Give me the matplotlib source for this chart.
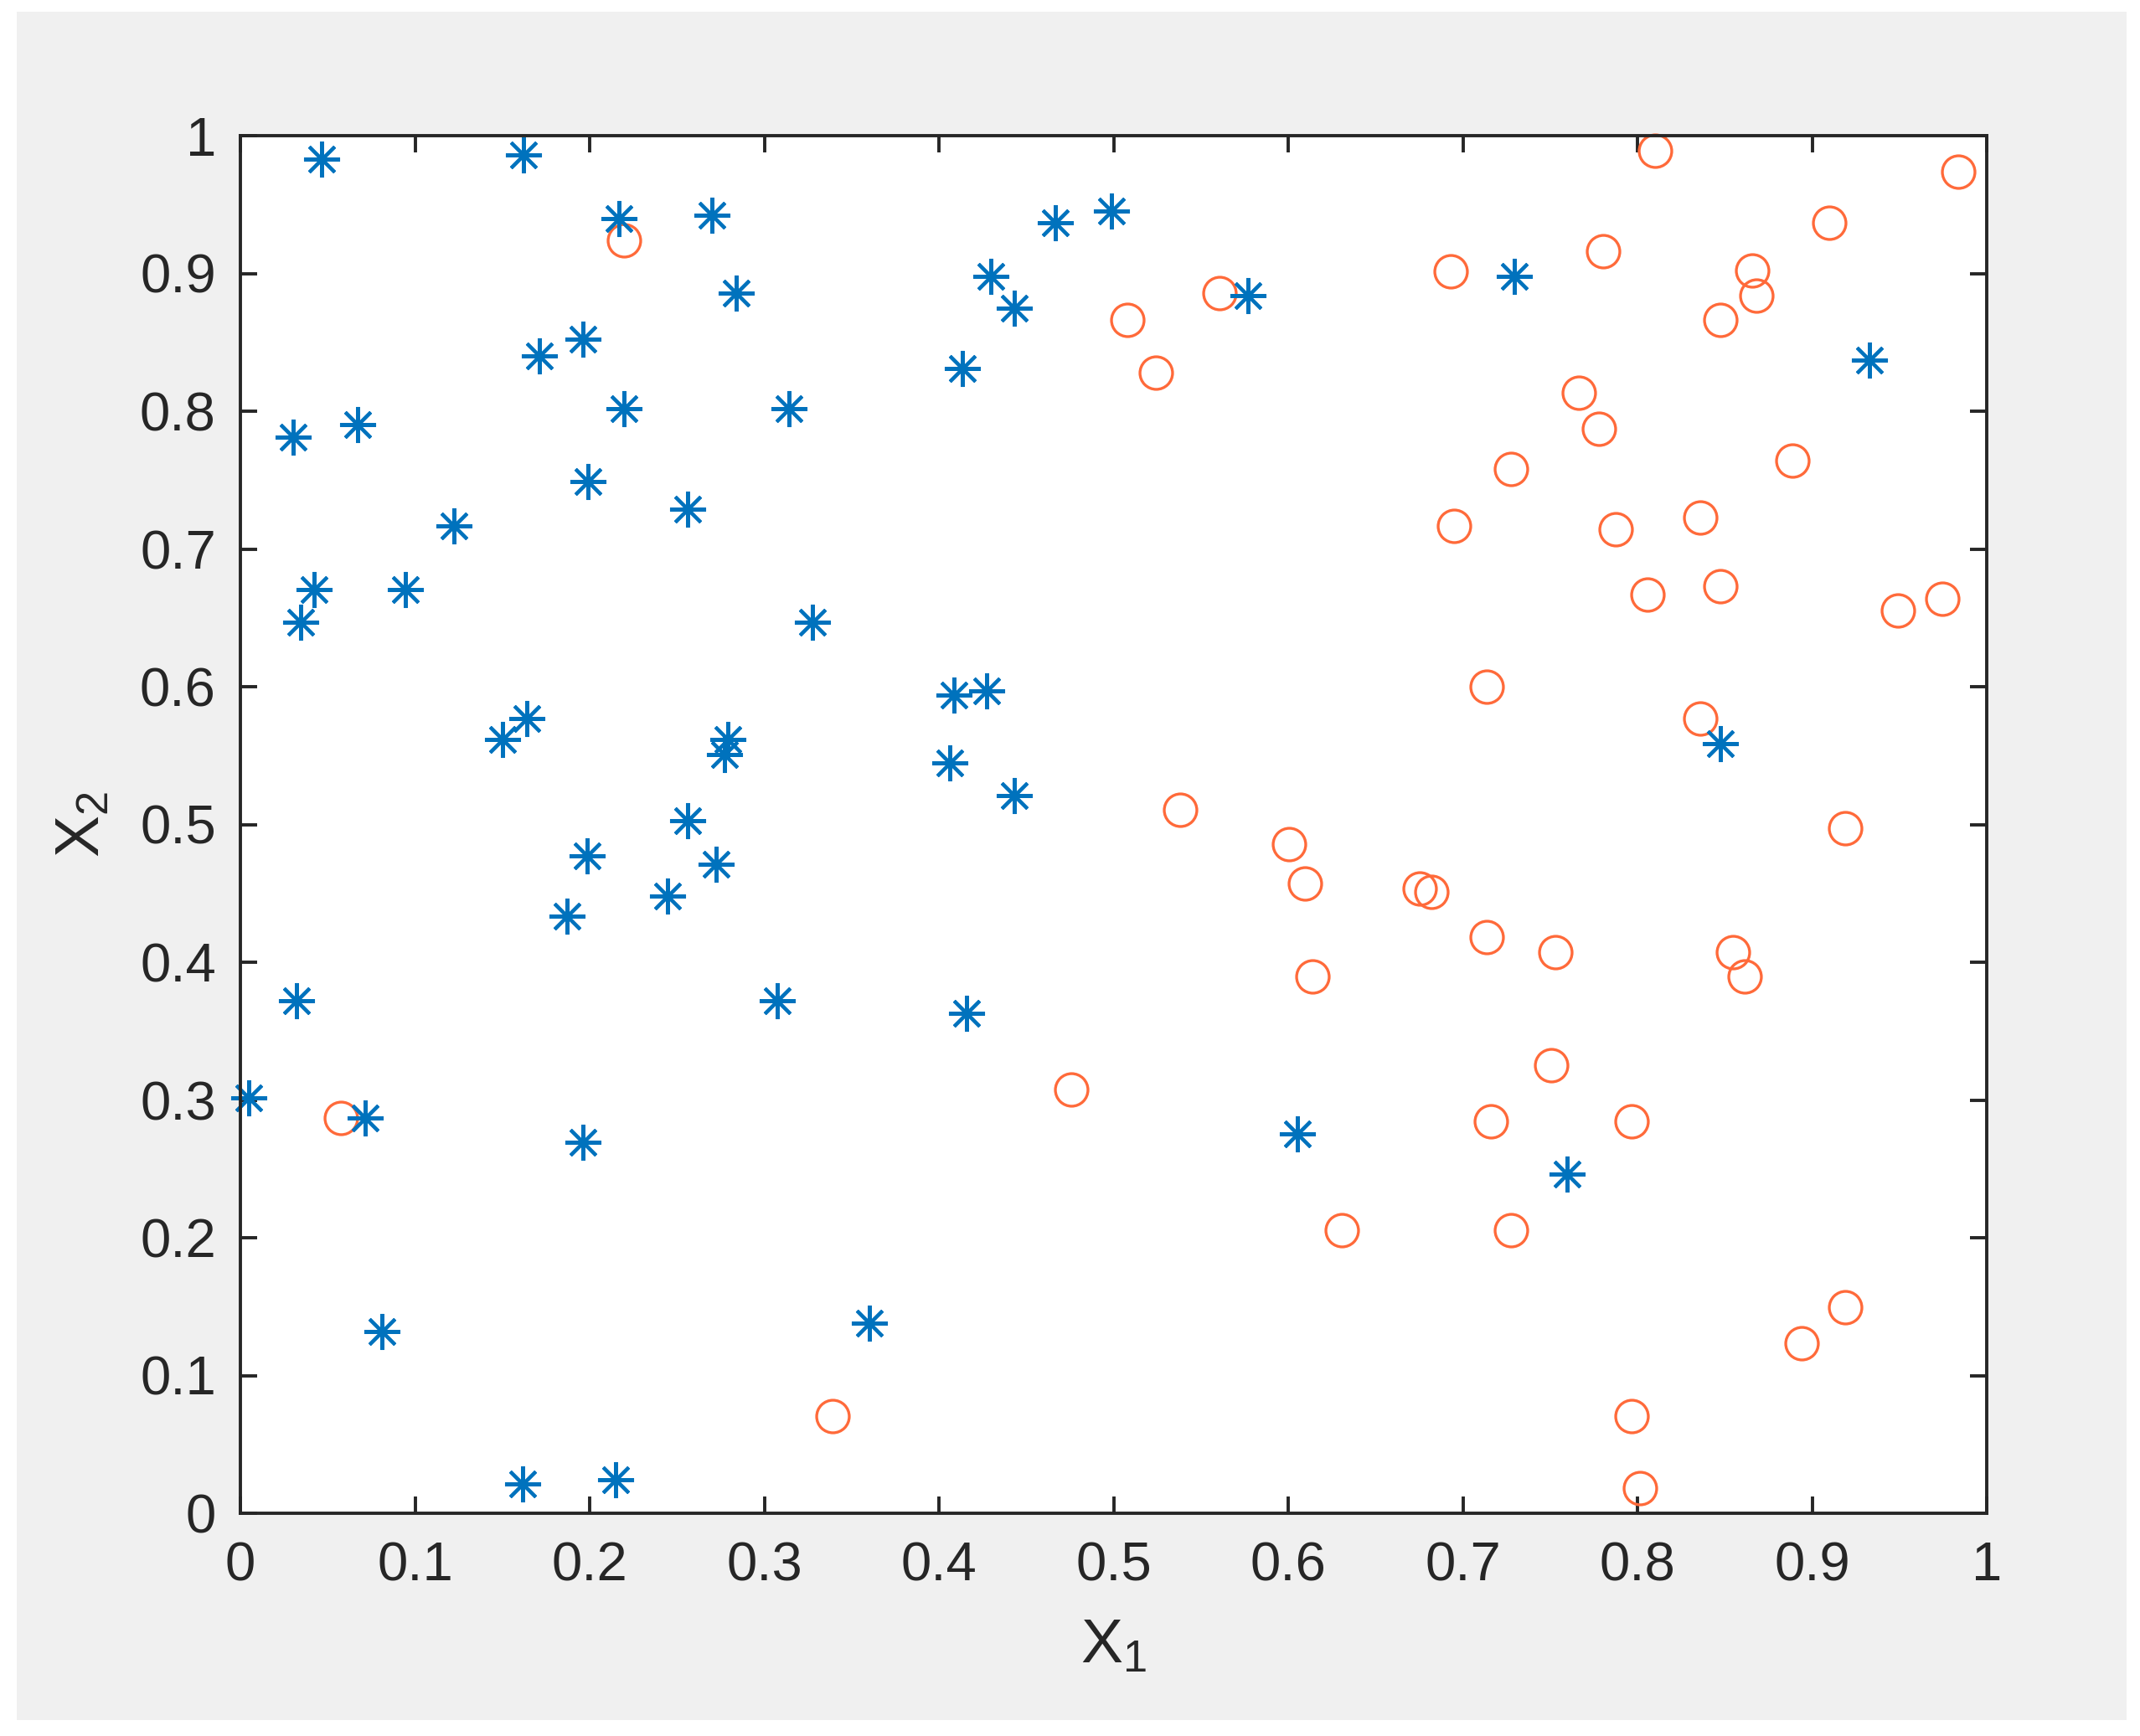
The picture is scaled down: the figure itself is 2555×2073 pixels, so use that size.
import numpy as np
import matplotlib
matplotlib.use("Agg")
import matplotlib.pyplot as plt
from matplotlib.patches import Rectangle

plt.rcParams['font.family'] = ['Liberation Sans', 'DejaVu Sans']
plt.rcParams['mathtext.fontset'] = 'custom'
plt.rcParams['mathtext.rm'] = 'Liberation Sans'
plt.rcParams['mathtext.default'] = 'regular'

# class 1 (blue asterisks)
star_x = [0.0465, 0.162, 0.217, 0.270, 0.284, 0.171, 0.196, 0.2195, 0.314, 0.030,
          0.067, 0.199, 0.256, 0.1225, 0.042, 0.0347, 0.0946, 0.3276, 0.164, 0.150,
          0.279, 0.277, 0.256, 0.4665, 0.499, 0.4295, 0.4434, 0.4134, 0.5772, 0.4085,
          0.4273, 0.4064, 0.4434, 0.7297, 0.9327, 0.8475, 0.1987, 0.2724, 0.2448, 0.1872,
          0.0323, 0.3073, 0.0047, 0.0717, 0.1964, 0.0809, 0.1617, 0.2148, 0.4156, 0.6051,
          0.3603, 0.7597]
star_y = [0.983, 0.986, 0.940, 0.942, 0.886, 0.840, 0.852, 0.802, 0.802, 0.781,
          0.790, 0.749, 0.729, 0.717, 0.6705, 0.647, 0.6705, 0.647, 0.577, 0.562,
          0.562, 0.5505, 0.503, 0.9367, 0.945, 0.898, 0.875, 0.831, 0.884, 0.594,
          0.597, 0.5445, 0.521, 0.898, 0.837, 0.5585, 0.4774, 0.4713, 0.448, 0.4336,
          0.3718, 0.3718, 0.3018, 0.287, 0.2695, 0.1322, 0.0212, 0.0241, 0.3629, 0.2755,
          0.138, 0.246]

# class 2 (orange circles)
circ_x = [0.2195, 0.5605, 0.508, 0.524, 0.538, 0.8103, 0.9837, 0.9096, 0.6929, 0.7805,
          0.8659, 0.8681, 0.8475, 0.7666, 0.7781, 0.7274, 0.6951, 0.7873, 0.836, 0.8888,
          0.8058, 0.8475, 0.949, 0.9745, 0.7135, 0.836, 0.919, 0.0574, 0.3389, 0.6006,
          0.6098, 0.476, 0.6141, 0.6306, 0.6754, 0.6818, 0.7137, 0.7529, 0.8546, 0.8614,
          0.7505, 0.716, 0.7968, 0.7276, 0.9188, 0.8938, 0.7968, 0.8013]
circ_y = [0.924, 0.886, 0.866, 0.828, 0.5106, 0.989, 0.974, 0.937, 0.9015, 0.916,
          0.9024, 0.884, 0.866, 0.8135, 0.787, 0.758, 0.717, 0.714, 0.723, 0.764,
          0.667, 0.673, 0.6555, 0.664, 0.600, 0.577, 0.497, 0.287, 0.0705, 0.4857,
          0.4569, 0.3075, 0.3897, 0.2052, 0.4537, 0.4512, 0.4185, 0.407, 0.407, 0.3894,
          0.3251, 0.2842, 0.2842, 0.2052, 0.1498, 0.1233, 0.0705, 0.018]

ticks = np.round(np.arange(0, 1.01, 0.1), 1)
tick_labels = ['0', '0.1', '0.2', '0.3', '0.4', '0.5', '0.6', '0.7', '0.8', '0.9', '1']

W, H = 2555, 2073
fig = plt.figure(figsize=(W / 100, H / 100), dpi=100)
fig.patch.set_facecolor('white')
# grey MATLAB figure window
fig.patches.append(Rectangle((20 / W, 1 - 2054 / H), 2519 / W, 2040 / H,
                             transform=fig.transFigure, facecolor='#f0f0f0',
                             edgecolor='none', zorder=-1))

ax = fig.add_axes([287 / W, 1 - 1807 / H, 2085 / W, 1645 / H])
ax.set_facecolor('white')

ax.plot(circ_x, circ_y, linestyle='none', marker='o', ms=28, mfc='none',
        mec='#ff6a3a', mew=2.4, clip_on=False)
ax.plot(star_x, star_y, linestyle='none', marker=(8, 2, 0), ms=31,
        mec='#0072bd', mfc='#0072bd', mew=2.9, clip_on=False)

ax.set_xlim(0, 1)
ax.set_ylim(0, 1)
ax.set_xticks(ticks)
ax.set_xticklabels(tick_labels)
ax.set_yticks(ticks)
ax.set_yticklabels(tick_labels)

dark = '#262626'
for s in ax.spines.values():
    s.set_linewidth(2.8)
    s.set_color(dark)
ax.tick_params(direction='in', top=True, right=True, length=14.5, width=2.8,
               color=dark, labelcolor=dark, labelsize=47)
ax.tick_params(axis='x', pad=24)
ax.tick_params(axis='y', pad=21)

ax.set_xlabel('X$_1$', fontsize=54, color=dark, labelpad=22)
ax.set_ylabel('X$_2$', fontsize=54, color=dark, labelpad=24)

fig.savefig('out.png', dpi=100)
